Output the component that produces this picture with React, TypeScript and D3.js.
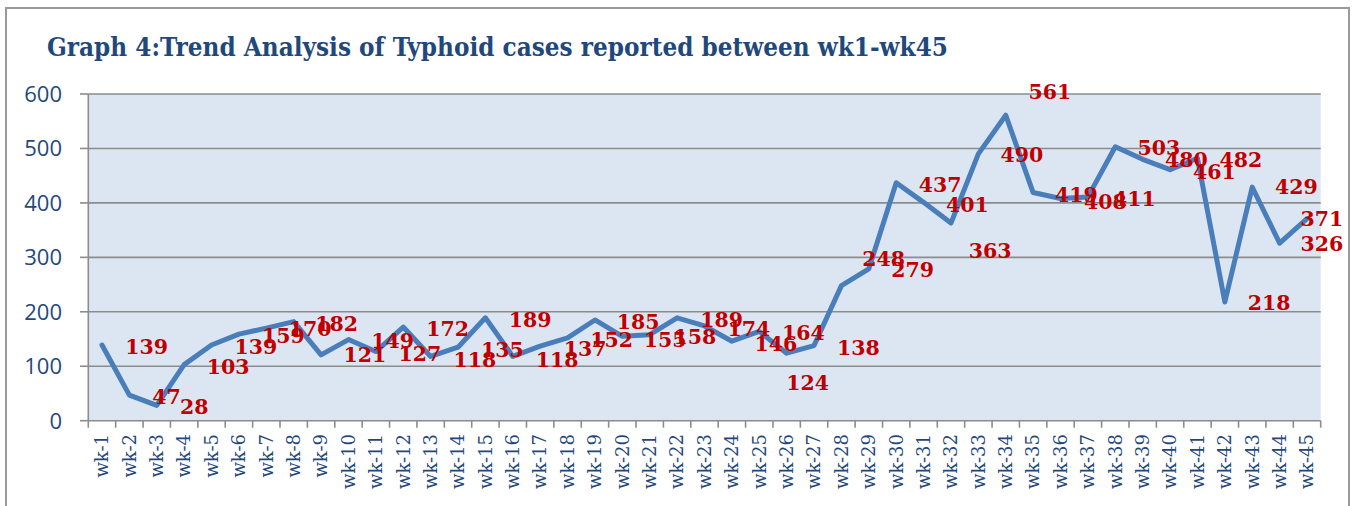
import React from "react";
import * as d3 from "d3";

const weeks: string[] = Array.from({ length: 45 }, (_, i) => `wk-${i + 1}`);

const cases: number[] = [
  139, 47, 28, 103, 139, 159, 170, 182, 121, 149,
  127, 172, 118, 135, 189, 118, 137, 152, 185, 155,
  158, 189, 174, 146, 164, 124, 138, 248, 279, 437,
  401, 363, 490, 561, 419, 408, 411, 503, 480, 461,
  482, 218, 429, 326, 371,
];

// data-label anchors, in category units (0 = wk-1) and value units
const labelCat: number[] = [
  1.63, 2.36, 3.37, 4.61, 5.62, 6.62, 7.6, 8.57, 9.6, 10.61,
  11.61, 12.62, 13.62, 14.62, 15.63, 16.62, 17.64, 18.61, 19.58, 20.56,
  21.65, 22.63, 23.62, 24.61, 25.61, 25.77, 27.62, 28.54, 29.6, 30.6,
  31.6, 32.43, 33.59, 34.61, 35.58, 36.64, 37.7, 38.59, 39.6, 40.62,
  41.59, 42.62, 43.61, 44.54, 44.54,
];
const labelVal: number[] = [
  136, 44, 26, 100, 136, 157, 170, 179, 121, 147,
  124, 170, 113, 131, 186, 113, 133, 148, 182, 149,
  154, 186, 170, 142, 161, 70, 135, 298, 277, 433,
  396, 313, 488, 604, 415, 402, 408, 502, 479, 457,
  480, 217, 429, 326, 372,
];

const yTicks: number[] = [0, 100, 200, 300, 400, 500, 600];
const title = "Graph 4:Trend Analysis of Typhoid cases reported between wk1-wk45";

export default function App() {
  const W = 1357, H = 506;
  const left = 88.3, right = 1320.7, top = 94, bottom = 420.7;
  const xl = d3.scaleLinear().domain([0, weeks.length]).range([left, right]);
  const xc = (i: number) => xl(i + 0.5);
  const y = d3.scaleLinear().domain([0, 600]).range([bottom, top]);
  const line = d3
    .line<number>()
    .x((_, i) => xc(i))
    .y((d) => y(d));
  const axisColor = "#1f497d";
  const grid = "#8c8c8c";

  return (
    <svg
      width={W}
      height={H}
      style={{ position: "absolute", left: 0, top: 0, background: "#fff" }}
    >
      <rect x={6} y={8} width={1343} height={560} fill="#fff" stroke="#9a9a9a" strokeWidth={2} />
      <text
        x={47}
        y={56}
        textLength={901}
        lengthAdjust="spacingAndGlyphs"
        fontFamily="DejaVu Serif"
        fontWeight="bold"
        fontSize={26}
        fill="#1f497d"
      >
        {title}
      </text>
      <rect x={left} y={top} width={right - left} height={bottom - top} fill="#dce6f2" />
      {yTicks.map((t) => (
        <g key={t}>
          <line x1={left} x2={right} y1={y(t)} y2={y(t)} stroke={grid} strokeWidth={1.6} />
          <line x1={80} x2={left} y1={y(t)} y2={y(t)} stroke={grid} strokeWidth={1.6} />
          <text
            x={62}
            y={y(t)}
            dy="0.36em"
            textAnchor="end"
            fontFamily="Open Sans"
            fontSize={22}
            fill={axisColor}
          >
            {t}
          </text>
        </g>
      ))}
      <line x1={left} x2={left} y1={top} y2={bottom} stroke={grid} strokeWidth={1.6} />
      {d3.range(weeks.length + 1).map((i) => (
        <line key={i} x1={xl(i)} x2={xl(i)} y1={bottom} y2={bottom + 7} stroke={grid} strokeWidth={1.6} />
      ))}
      {weeks.map((w, i) => (
        <text
          key={w}
          transform={`translate(${xc(i)},434) rotate(-90)`}
          dy="0.35em"
          textAnchor="end"
          fontFamily="DejaVu Serif"
          fontSize={18}
          fill={axisColor}
        >
          {w}
        </text>
      ))}
      <path
        d={line(cases) || ""}
        fill="none"
        stroke="#4a7ebb"
        strokeWidth={5}
        strokeLinejoin="round"
        strokeLinecap="round"
      />
      {cases.map((v, i) => (
        <text
          key={i}
          x={xl(labelCat[i] + 0.5)}
          y={y(labelVal[i])}
          dy="0.36em"
          textAnchor="middle"
          fontFamily="DejaVu Serif"
          fontWeight="bold"
          fontSize={20.5}
          fill="#c00000"
        >
          {v}
        </text>
      ))}
    </svg>
  );
}
